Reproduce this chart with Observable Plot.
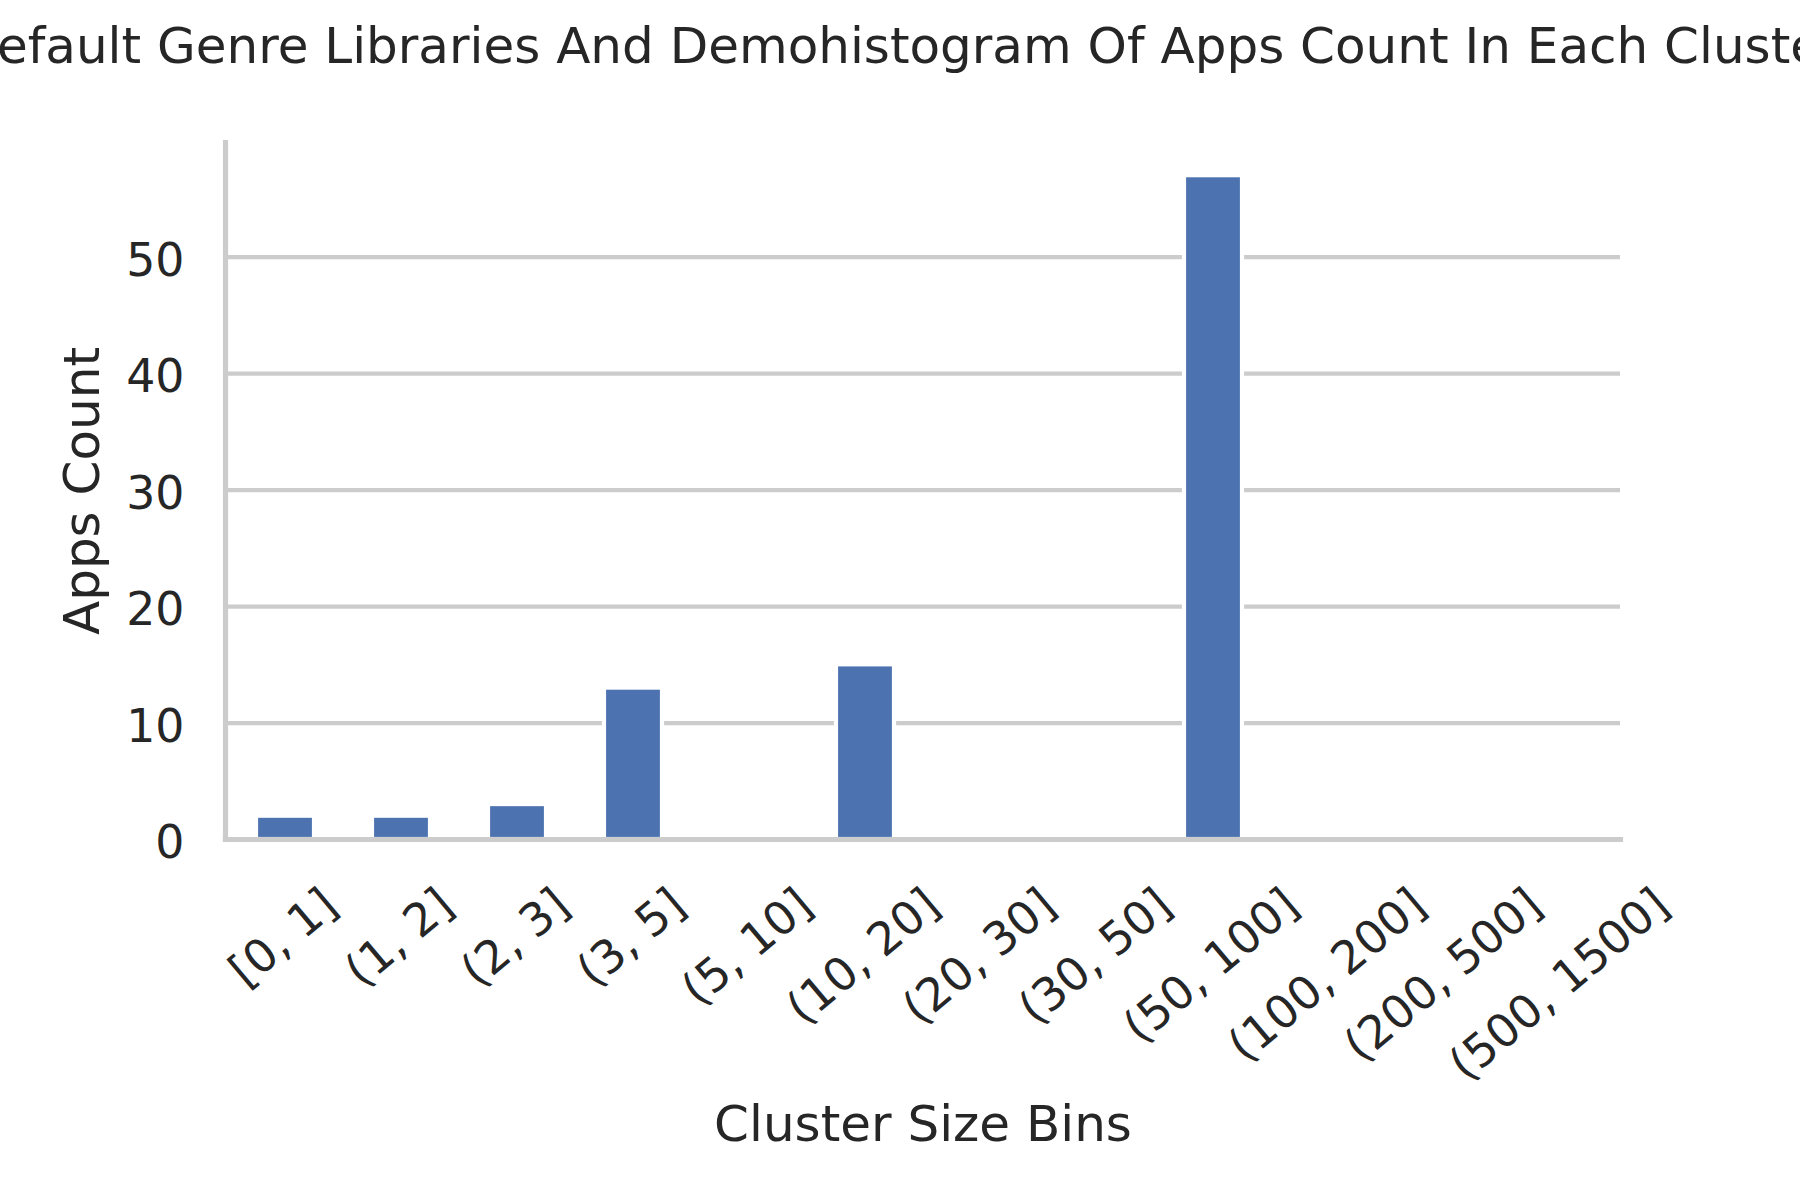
<!DOCTYPE html>
<html><head><meta charset="utf-8">
<script src="https://cdn.jsdelivr.net/npm/d3@7"></script>
<script src="https://cdn.jsdelivr.net/npm/@observablehq/plot@0.6"></script>
<style>
body{margin:0;background:#fff;}
#wrap{width:1800px;height:1200px;position:relative;overflow:hidden;font-family:"DejaVu Sans";}
#title{position:relative;height:96px;}
#title span{position:absolute;left:900px;top:21px;transform:translateX(-50%);white-space:nowrap;font-size:50px;line-height:50px;color:#262626;}
#chart svg{display:block;}
</style></head><body>
<div id="wrap"><div id="title"><span id="tt"></span></div><div id="chart"></div></div>
<script>
const titleText = "Default Genre Libraries And Demohistogram Of Apps Count In Each Cluster";
const xLabel = "Cluster Size Bins";
const yLabel = "Apps Count";
const bins = ["[0, 1]", "(1, 2]", "(2, 3]", "(3, 5]", "(5, 10]", "(10, 20]", "(20, 30]", "(30, 50]", "(50, 100]", "(100, 200]", "(200, 500]", "(500, 1500]"];
const counts = [2, 2, 3, 13, 0, 15, 0, 0, 57, 0, 0, 0];
const yTicks = [0, 10, 20, 30, 40, 50];

document.getElementById("tt").textContent = titleText;
const data = bins.map((b, i) => ({bin: b, count: counts[i]}));

const tickFont = 45.8;
const ctx = document.createElement("canvas").getContext("2d");
ctx.font = `${tickFont}px "DejaVu Sans"`;
const rot = 40 * Math.PI / 180;
const tickLabelMarks = bins.map(b => Plot.text([b], {
  x: d => d, text: d => d, frameAnchor: "bottom", rotate: -40,
  textAnchor: "end", lineAnchor: "middle", fontSize: tickFont, fill: "#262626",
  dx: ctx.measureText(b).width / 2 * Math.cos(rot) - 2, dy: 59
}));

const svg = Plot.plot({
  width: 1800, height: 1104,
  marginLeft: 225, marginRight: 180, marginTop: 46, marginBottom: 361,
  style: {fontFamily: '"DejaVu Sans"', color: "#262626", background: "white"},
  x: {type: "band", domain: bins, paddingInner: 0.5, paddingOuter: 0.25, axis: null},
  y: {domain: [0, 59.85], axis: null},
  marks: [
    Plot.gridY(yTicks, {stroke: "#cccccc", strokeWidth: 4.2, strokeOpacity: 1}),
    Plot.barY(data, {x: "bin", y: "count", fill: "#4c72b0", stroke: "white", strokeWidth: 4.2}),
    Plot.frame({anchor: "left", stroke: "#cccccc", strokeWidth: 5.2}),
    Plot.frame({anchor: "bottom", stroke: "#cccccc", strokeWidth: 5.2}),
    Plot.axisY(yTicks, {tickSize: 0, tickPadding: 41, dy: 4, fontSize: 45.8, label: null, fill: "#262626"}),
    ...tickLabelMarks,
    Plot.text([yLabel], {text: d => d, frameAnchor: "left", textAnchor: "middle", dx: -143, rotate: -90, fontSize: 50, lineAnchor: "middle", fill: "#262626"}),
    Plot.text([xLabel], {text: d => d, frameAnchor: "bottom", textAnchor: "middle", dy: 285, fontSize: 50, lineAnchor: "middle", fill: "#262626"})
  ]
});
document.getElementById("chart").appendChild(svg);
</script>
</body></html>
